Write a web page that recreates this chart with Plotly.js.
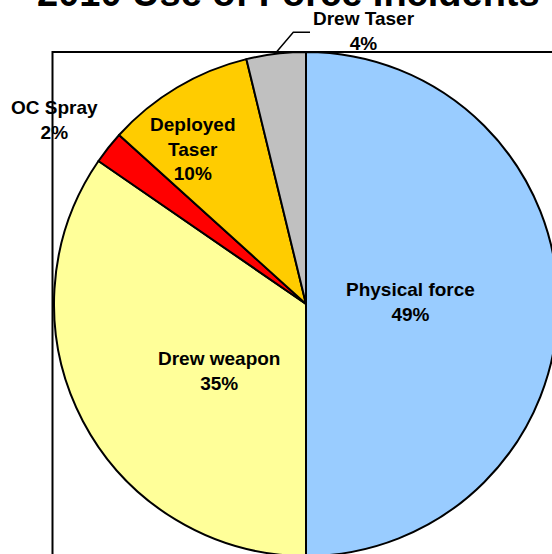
<!DOCTYPE html>
<html>
<head>
<meta charset="utf-8">
<script src="https://cdn.plot.ly/plotly-3.0.1.min.js"></script>
<style>
  html, body { margin: 0; padding: 0; width: 552px; height: 554px; overflow: hidden; background: #ffffff; }
  #chart { position: absolute; left: 0; top: -40px; width: 620px; height: 640px; }
</style>
</head>
<body>
<div id="chart"></div>
<script>
// ---- data ----
const titleText = "2010 Use of Force Incidents";
const categories = ["Physical force", "Drew weapon", "OC Spray", "Deployed Taser", "Drew Taser"];
// slice sizes as drawn in the picture (share of the circle, %)
const sliceShares = [50, 34.6, 2.1, 9.5, 3.8];
// percentages printed on the labels
const labelPercents = [49, 35, 2, 10, 4];
const labelLines = [["Physical force"], ["Drew weapon"], ["OC Spray"], ["Deployed", "Taser"], ["Drew Taser"]];
const sliceColors = ["#99CCFF", "#FFFF99", "#FF0000", "#FFCC00", "#C0C0C0"];

// ---- layout helpers (page pixels -> paper coords of the enlarged div) ----
const W = 620, H = 640, OFF = 40;
const px = x => x / W;
const py = y => 1 - (y + OFF) / H;

const cx = 306, cy = 304, R = 252;

// label anchor points (page px)
const labelPos = [[410, 302], [219, 371], [54.5, 120], [193, 149], [364, 31]];

const font = {family: "Liberation Sans, Arial, sans-serif", size: 19, color: "#000000"};

const annotations = categories.map((c, i) => ({
  text: "<b>" + labelLines[i].concat([labelPercents[i] + "%"]).join("<br>") + "</b>",
  x: px(labelPos[i][0]), y: py(labelPos[i][1]),
  xref: "paper", yref: "paper", xanchor: "center", yanchor: "middle",
  showarrow: false, align: "center", font: font
}));
annotations.push({
  text: "<b>" + titleText + "</b>",
  x: px(288.5), y: py(-7), xref: "paper", yref: "paper",
  xanchor: "center", yanchor: "middle", showarrow: false,
  font: {family: "Liberation Sans, Arial, sans-serif", size: 38, color: "#000000"}
});

const trace = {
  type: "pie",
  labels: categories,
  values: sliceShares,
  sort: false,
  direction: "clockwise",
  rotation: 0,
  textinfo: "none",
  hoverinfo: "none",
  marker: {colors: sliceColors, line: {color: "#000000", width: 2}},
  domain: {x: [px(cx - R), px(cx + R)], y: [py(cy + R), py(cy - R)]}
};

const layout = {
  width: W, height: H,
  margin: {l: 0, r: 0, t: 0, b: 0, pad: 0},
  paper_bgcolor: "#ffffff",
  showlegend: false,
  annotations: annotations,
  shapes: [
    {type: "rect", xref: "paper", yref: "paper",
     x0: px(52.5), x1: px(700), y0: py(700), y1: py(52),
     line: {color: "#000000", width: 2}, fillcolor: "rgba(0,0,0,0)", layer: "below"},
    {type: "path", xref: "paper", yref: "paper",
     path: "M " + px(276.7) + "," + py(51.7) + " L " + px(293.3) + "," + py(32.3) + " L " + px(310) + "," + py(32.3),
     line: {color: "#000000", width: 1.5}}
  ]
};

Plotly.newPlot("chart", [trace], layout, {staticPlot: true, displayModeBar: false});
</script>
</body>
</html>
